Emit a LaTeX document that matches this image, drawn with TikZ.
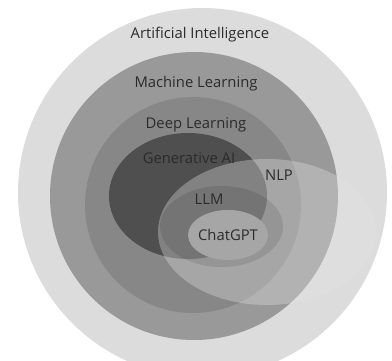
\documentclass[tikz,border=0pt]{standalone}
\usepackage{fontspec}
\setmainfont{Open Sans}
\definecolor{aicol}{HTML}{DCDCDC}
\definecolor{mlcol}{HTML}{999999}
\definecolor{dlcol}{HTML}{878787}
\definecolor{gencol}{HTML}{4F4F4F}
\definecolor{nlpcol}{HTML}{E2E2E2}
\definecolor{gptcol}{HTML}{A6A6A6}
\definecolor{txtcol}{HTML}{2B2B2B}
\begin{document}
\begin{tikzpicture}[x=1pt,y=-1pt,
  lbl/.style={text=txtcol,font=\fontsize{14.8}{16}\selectfont,inner sep=0pt,anchor=base}]
\useasboundingbox (0,0) rectangle (392,360);
\clip (0,0) rectangle (392,360);
\fill[aicol] (202.5,192.5) circle[radius=184.5];
\fill[mlcol] (194,196) circle[radius=144];
\fill[dlcol] (193,205) circle[radius=108];
\fill[gencol] (188,196) ellipse[x radius=79,y radius=63];
\fill[nlpcol,fill opacity=0.35] (267,232) ellipse[x radius=109,y radius=73];
\fill[black,fill opacity=0.1] (221.5,226.5) ellipse[x radius=61.5,y radius=40.5];
\fill[gptcol] (228,235) ellipse[x radius=40,y radius=25];
\node[lbl] (ai) at (200,38.5) {Artificial Intelligence};
\node[lbl] (ml) at (196,87) {Machine Learning};
\node[lbl] (dl) at (196,128) {Deep Learning};
\node[lbl] (gen) at (189,163.5) {Generative AI};
\node[lbl] (nlp) at (279,180) {NLP};
\node[lbl] (llm) at (209,204) {LLM};
\node[lbl] (gpt) at (228,240) {ChatGPT};
\end{tikzpicture}
\end{document}
